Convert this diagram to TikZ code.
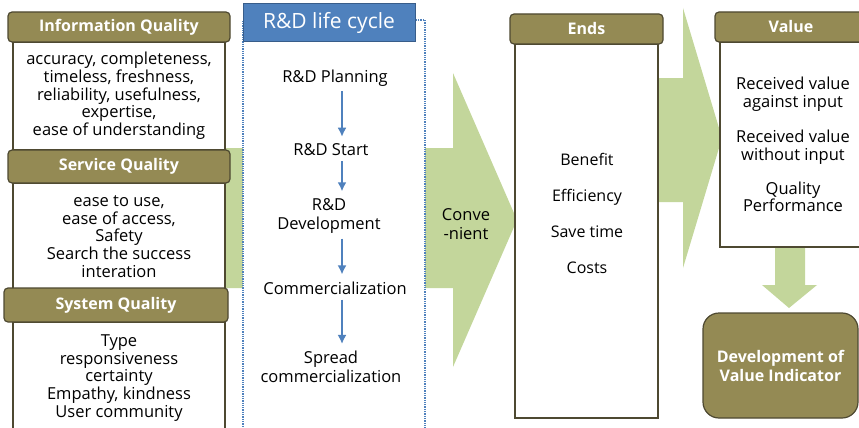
\documentclass[tikz,border=0pt]{standalone}
\usepackage{fontspec}
\setmainfont{Open Sans}
\usetikzlibrary{arrows.meta}
\definecolor{headolive}{HTML}{948A54}
\definecolor{edgebrown}{HTML}{4E4931}
\definecolor{bandgreen}{HTML}{C3D69B}
\definecolor{flowblue}{HTML}{4F81BD}
\definecolor{flowdark}{HTML}{385D8A}
\tikzset{
    head/.style={draw=edgebrown,fill=headolive,line width=1.2pt,rounded corners=4pt,
        text=white,align=center,font=\bfseries\fontsize{16}{19}\selectfont},
    box/.style={draw=edgebrown,fill=white,line width=1.2pt,align=center,
        font=\fontsize{16.5}{17.7}\selectfont},
    item/.style={align=center,inner sep=1pt,font=\fontsize{16.5}{19}\selectfont},
    flow/.style={draw=flowblue,line width=1.8pt,shorten <=4pt,shorten >=6pt,
        -{Latex[length=9pt,width=9pt]}}
}

\begin{document}
\begin{tikzpicture}[x=1pt,y=-1pt]
    \useasboundingbox (0,0) rectangle (859,428);
    % green block arrows
    \fill[bandgreen] (200,148) -- (453,148) -- (453,73) -- (517,220)
        -- (453,367) -- (453,288) -- (200,288) -- cycle;
    \fill[bandgreen] (650,78) -- (683,78) -- (683,8) -- (722,138)
        -- (683,268) -- (683,202) -- (650,202) -- cycle;
    \fill[bandgreen] (775,245) -- (805,245) -- (805,285) -- (817,285)
        -- (789,308) -- (762,285) -- (775,285) -- cycle;

    % quality column
    \node[box,minimum width=212,minimum height=108] (infobox) at (119,96)
        {accuracy, completeness,\\ timeless, freshness,\\ reliability, usefulness,\\ expertise,\\ ease of understanding};
    \node[head,minimum width=222,minimum height=30] (infohead) at (119,27) {Information Quality};
    \node[box,minimum width=212,minimum height=107] (servicebox) at (119,236.5)
        {ease to use,\\ ease of access,\\ Safety\\ Search the success\\ interation};
    \node[head,minimum width=222,minimum height=33] (servicehead) at (119,166.5) {Service Quality};
    \node[box,minimum width=212,minimum height=112] (systembox) at (119,378)
        {Type\\ responsiveness\\ certainty\\ Empathy, kindness\\ User community};
    \node[head,minimum width=224,minimum height=34] (systemhead) at (116,305) {System Quality};

    % life cycle
    \node[draw=flowblue,densely dotted,line width=1.3pt,fill=white,
        minimum width=182,minimum height=415] (cycle) at (334,227.5) {};
    \node[draw=flowdark,fill=flowblue,line width=1pt,minimum width=172,minimum height=38,
        text=white,font=\fontsize{21}{24}\selectfont] (cyclehead) at (329,23) {R\&D life cycle};
    \node[item] (plan) at (335,78) {R\&D Planning};
    \node[item] (start) at (331,150) {R\&D Start};
    \node[item] (devel) at (329,216) {R\&D\\ Development};
    \node[item] (comm) at (335,288) {Commercialization};
    \node[item] (spread) at (331,367) {Spread\\ commercialization};
    \draw[flow] ([xshift=7pt]plan.south) -- ([xshift=11pt]start.north);
    \draw[flow] ([xshift=11pt]start.south) -- ([xshift=13pt]devel.north);
    \draw[flow] ([xshift=13pt]devel.south) -- ([xshift=7pt]comm.north);
    \draw[flow] ([xshift=7pt]comm.south) -- ([xshift=11pt]spread.north);

    \node[item] (conv) at (466,224) {Conve\\-nient};

    % ends
    \node[box,minimum width=143,minimum height=374] (endsbox) at (586.5,231) {};
    \node[head,minimum width=153,minimum height=30] (endshead) at (586.5,29) {Ends};
    \node[item,font=\fontsize{16}{36}\selectfont] (endsitems) at (587,213)
        {Benefit\\ Efficiency\\ Save time\\ Costs};

    % value
    \node[box,minimum width=146,minimum height=205] (valuebox) at (793,144.5)
        {Received value\\ against input\\[18pt] Received value\\ without input\\[16pt] Quality\\ Performance};
    \node[head,minimum width=152,minimum height=30] (valuehead) at (791,27) {Value};
    \node[head,rounded corners=16pt,minimum width=155,minimum height=105] (devbox) at (780.5,365.5)
        {Development of\\ Value Indicator};
\end{tikzpicture}
\end{document}
